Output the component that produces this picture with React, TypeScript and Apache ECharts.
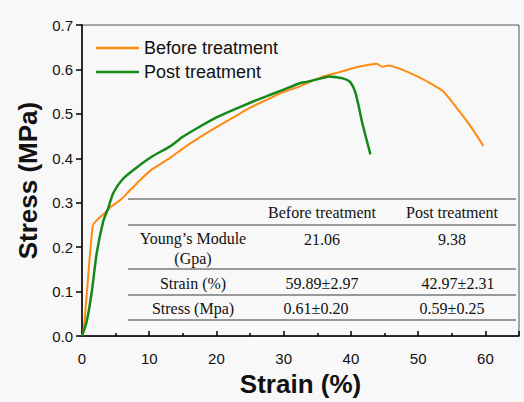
import React, { useEffect, useRef } from "react";
import * as echarts from "echarts";

const beforeStrain = [0, 0.3, 1.6, 2.4, 3.2, 4.4, 5.7, 7.0, 8.1, 10.3, 13.1, 15.1, 17.5, 20, 22.5, 25, 27.5, 29.9, 32.4, 34.2, 35.9, 38.3, 40.8, 42.5, 43.8, 44.7, 45.6, 47.0, 48.5, 49.8, 51.2, 53.7, 55.7, 57.7, 59.7];
const beforeStress = [0, 0.02, 0.248, 0.264, 0.274, 0.292, 0.306, 0.326, 0.343, 0.374, 0.401, 0.423, 0.447, 0.47, 0.492, 0.514, 0.532, 0.549, 0.562, 0.574, 0.584, 0.594, 0.605, 0.61, 0.613, 0.606, 0.609, 0.603, 0.594, 0.585, 0.574, 0.551, 0.514, 0.474, 0.428];

const postStrain = [0, 0.7, 1.44, 2.18, 3.17, 3.9, 4.65, 6.1, 8.1, 10.3, 13.1, 15.05, 17.5, 20, 22.5, 25, 27.5, 29.9, 32.4, 33.4, 35.9, 36.8, 38.0, 38.8, 39.8, 40.6, 41.1, 41.6, 42.2, 42.9];
const postStress = [0, 0.033, 0.098, 0.186, 0.259, 0.288, 0.322, 0.354, 0.379, 0.403, 0.427, 0.449, 0.471, 0.492, 0.509, 0.525, 0.54, 0.554, 0.569, 0.572, 0.581, 0.584, 0.582, 0.58, 0.573, 0.551, 0.521, 0.485, 0.449, 0.409];

const seriesNames = ["Before treatment", "Post treatment"];
const tableHeader = ["", "Before treatment", "Post treatment"];
const tableRows = [
  ["Young’s Module\n(Gpa)", "21.06", "9.38"],
  ["Strain (%)", "59.89±2.97", "42.97±2.31"],
  ["Stress (Mpa)", "0.61±0.20", "0.59±0.25"],
];

export default function App() {
  const ref = useRef<HTMLDivElement>(null);
  useEffect(() => {
    if (!ref.current) return;
    const chart = echarts.init(ref.current, null, { renderer: "svg" });
    const serif = "'Liberation Serif', 'DejaVu Serif', serif";
    const sans = "'Liberation Sans', Arial, sans-serif";
    const orange = "#FF8A12";
    const green = "#14891A";

    const lineYs = [199, 225, 269, 295, 320];
    const colX = [193, 322, 452];
    const rowYs = [212, 248, 283, 308];
    const graphics: any[] = [];
    lineYs.forEach((y) => {
      graphics.push({
        type: "line",
        shape: { x1: 128, y1: y, x2: 516, y2: y },
        style: { stroke: "#7a7a7a", lineWidth: 1.5 },
      });
    });
    const rows = [tableHeader, ...tableRows];
    rows.forEach((row, ri) => {
      row.forEach((txt, ci) => {
        if (!txt) return;
        const isYoung = ri === 1;
        graphics.push({
          type: "text",
          x: colX[ci] + (ri === 2 && ci === 2 ? 6 : 0) + (ri === 3 && ci === 1 ? -6 : 0),
          y: isYoung && ci > 0 ? 239 : rowYs[ri],
          style: {
            text: txt,
            font: `16px ${serif}`,
            fill: "#111",
            textAlign: "center",
            textVerticalAlign: "middle",
            lineHeight: 20,
          },
        });
      });
    });

    chart.setOption({
      animation: false,
      backgroundColor: "#f8f8f8",
      grid: {
        left: 82,
        right: 5,
        top: 25,
        bottom: 56,
        show: true,
        borderColor: "#555",
        borderWidth: 1,
        backgroundColor: "transparent",
      },
      legend: {
        left: 96,
        top: 39,
        padding: 0,
        orient: "vertical",
        itemWidth: 43,
        itemHeight: 2.5,
        itemGap: 6,
        icon: "rect",
        textStyle: { fontSize: 18, fontFamily: sans, color: "#111" },
        data: seriesNames,
      },
      xAxis: {
        type: "value",
        min: 0,
        max: 65,
        interval: 10,
        name: "Strain (%)",
        nameLocation: "middle",
        nameGap: 33,
        nameTextStyle: { fontSize: 26, fontWeight: "bold", fontFamily: sans, color: "#111" },
        axisLine: { show: true, lineStyle: { color: "#000", width: 1.5 } },
        axisTick: { show: true, inside: true, length: 5, lineStyle: { color: "#000", width: 1.5 } },
        minorTick: { show: true, splitNumber: 2, length: 3, lineStyle: { color: "#000", width: 1.5 } },
        axisLabel: { fontSize: 15, fontFamily: sans, color: "#111", margin: 15, showMaxLabel: false },
        splitLine: { show: false },
      },
      yAxis: {
        type: "value",
        min: 0,
        max: 0.7,
        interval: 0.1,
        name: "Stress (MPa)",
        nameLocation: "middle",
        nameGap: 30,
        nameTextStyle: { fontSize: 26, fontWeight: "bold", fontFamily: sans, color: "#111" },
        axisLine: { show: true, lineStyle: { color: "#000", width: 1.5 } },
        axisTick: { show: true, inside: false, length: 6, lineStyle: { color: "#000", width: 1.5 } },
        axisLabel: {
          fontSize: 15,
          fontFamily: sans,
          color: "#111",
          margin: 9,
          formatter: (v: number) => v.toFixed(1),
        },
        splitLine: { show: false },
      },
      series: [
        {
          name: seriesNames[0],
          type: "line",
          symbol: "none",
          smooth: 0.2,
          data: beforeStrain.map((x, i) => [x, beforeStress[i]]),
          lineStyle: { color: orange, width: 2 },
          itemStyle: { color: orange },
        },
        {
          name: seriesNames[1],
          type: "line",
          symbol: "none",
          smooth: 0.2,
          data: postStrain.map((x, i) => [x, postStress[i]]),
          lineStyle: { color: green, width: 2.5 },
          itemStyle: { color: green },
        },
      ],
      graphic: graphics,
    });
    return () => chart.dispose();
  }, []);
  return (
    <div
      ref={ref}
      style={{ position: "fixed", left: 0, top: 0, width: 524, height: 402 }}
    />
  );
}
